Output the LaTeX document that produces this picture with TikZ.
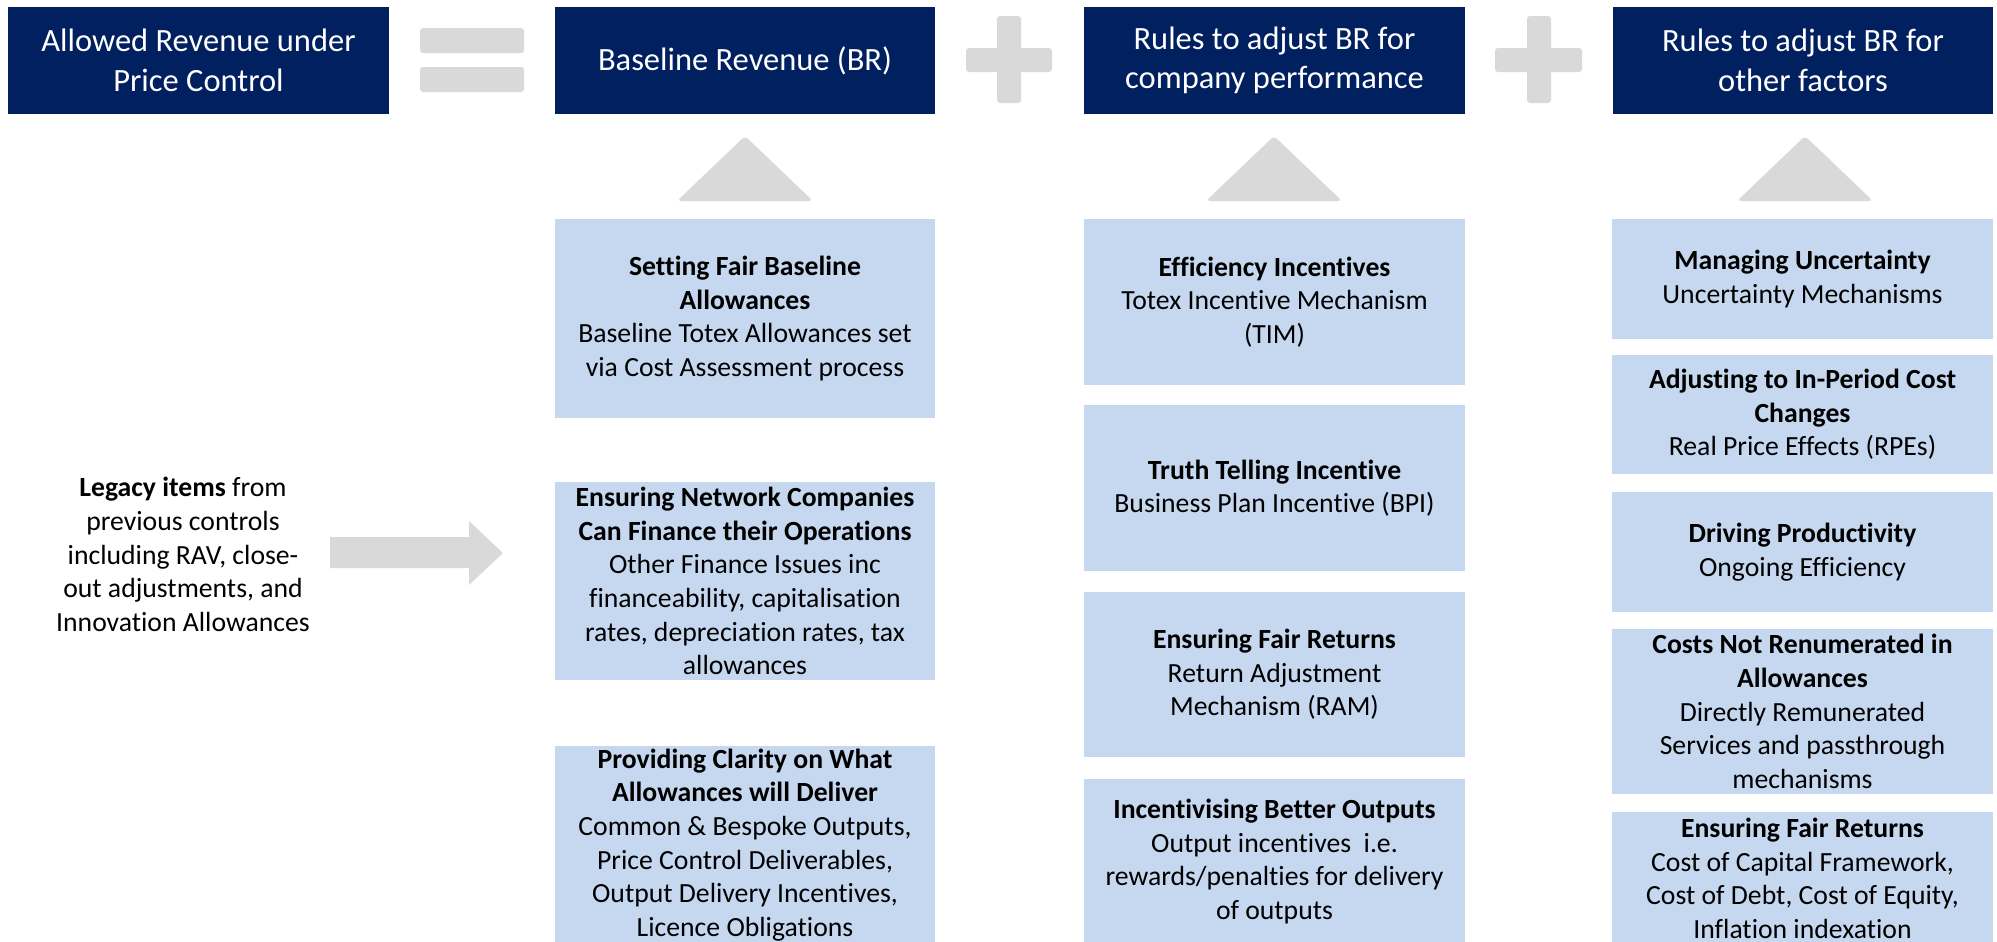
\documentclass[tikz,border=0pt]{standalone}
\usepackage{fontspec}
\setmainfont{Carlito}[Ligatures=NoCommon]
\definecolor{navy}{HTML}{002060}
\definecolor{paleblue}{HTML}{C6D8EF}
\definecolor{shapegrey}{HTML}{D9D9D9}
\tikzset{
  hdr/.style={fill=navy, text=white, inner sep=0pt, align=center,
    font=\fontsize{16.25pt}{19.75pt}\selectfont},
  card/.style={fill=paleblue, text=black, inner sep=0pt, align=center,
    font=\fontsize{13.85pt}{16.8pt}\selectfont},
  plain/.style={inner sep=0pt, align=center, text=black,
    font=\fontsize{13.85pt}{16.8pt}\selectfont},
  glyph/.style={fill=shapegrey, rounded corners=1.5pt},
}
\begin{document}
\begin{tikzpicture}[x=0.5pt, y=-0.5pt]
\useasboundingbox (0,0) rectangle (1997,942);
\clip (0,0) rectangle (1997,942);

% header row
\node[hdr, minimum width=190.5pt, minimum height=53.5pt] (h1) at (198.5,60.5) {Allowed Revenue under\\Price Control};
\node[hdr, minimum width=190pt, minimum height=53.5pt] (h2) at (745,60.5) {Baseline Revenue (BR)};
\node[hdr, minimum width=190.5pt, minimum height=53.5pt] (h3) at (1274.5,60.5) {Rules to adjust BR for\\company performance};
\node[hdr, minimum width=190pt, minimum height=53.5pt] (h4) at (1803,60.5) {Rules to adjust BR for\\other factors};

% equals sign
\fill[glyph] (420,28) rectangle (524,53);
\fill[glyph] (420,67) rectangle (524,92);

% plus signs
\fill[glyph] (997,16) rectangle (1021,103);
\fill[glyph] (966,48) rectangle (1052,72);
\fill[glyph] (1527,16) rectangle (1551,103);
\fill[glyph] (1495,48) rectangle (1582,72);

% upward triangles under each term
\fill[glyph, rounded corners=2pt] (745,136) -- (813,201) -- (677,201) -- cycle;
\fill[glyph, rounded corners=2pt] (1274,136) -- (1342,201) -- (1206,201) -- cycle;
\fill[glyph, rounded corners=2pt] (1805,136) -- (1873,201) -- (1737,201) -- cycle;

% baseline revenue column
\node[card, minimum width=190pt, minimum height=99.5pt] (b1) at (745,318.5)
  {\textbf{Setting Fair Baseline}\\\textbf{Allowances}\\Baseline Totex Allowances set\\via Cost Assessment process};
\node[card, minimum width=190pt, minimum height=99pt] (b2) at (745,581)
  {\textbf{Ensuring Network Companies}\\\textbf{Can Finance their Operations}\\Other Finance Issues inc\\financeability, capitalisation\\rates, depreciation rates, tax\\allowances};
\node[card, minimum width=190pt, minimum height=99pt] (b3) at (745,845)
  {\textbf{Providing Clarity on What}\\\textbf{Allowances will Deliver}\\Common \& Bespoke Outputs,\\Price Control Deliverables,\\Output Delivery Incentives,\\Licence Obligations};

% company performance column
\node[card, minimum width=190.5pt, minimum height=83pt] (c1) at (1274.5,302)
  {\textbf{Efficiency Incentives}\\Totex Incentive Mechanism\\(TIM)};
\node[card, minimum width=190.5pt, minimum height=83pt] (c2) at (1274.5,488)
  {\textbf{Truth Telling Incentive}\\Business Plan Incentive (BPI)};
\node[card, minimum width=190.5pt, minimum height=82.5pt] (c3) at (1274.5,674.5)
  {\textbf{Ensuring Fair Returns}\\Return Adjustment\\Mechanism (RAM)};
\node[card, minimum width=190.5pt, minimum height=82.5pt] (c4) at (1274.5,861.5)
  {\textbf{Incentivising Better Outputs}\\Output incentives\ \ i.e.\\rewards/penalties for delivery\\of outputs};

% other factors column
\node[card, minimum width=190.5pt, minimum height=60pt] (d1) at (1802.5,279)
  {\textbf{Managing Uncertainty}\\Uncertainty Mechanisms};
\node[card, minimum width=190.5pt, minimum height=59.5pt] (d2) at (1802.5,414.5)
  {\textbf{Adjusting to In-Period Cost}\\\textbf{Changes}\\Real Price Effects (RPEs)};
\node[card, minimum width=190.5pt, minimum height=60pt] (d3) at (1802.5,552)
  {\textbf{Driving Productivity}\\Ongoing Efficiency};
\node[card, minimum width=190.5pt, minimum height=82.5pt] (d4) at (1802.5,711.5)
  {\textbf{Costs Not Renumerated in}\\\textbf{Allowances}\\Directly Remunerated\\Services and passthrough\\mechanisms};
\node[card, minimum width=190.5pt, minimum height=66.5pt] (d5) at (1802.5,878.5)
  {\textbf{Ensuring Fair Returns}\\Cost of Capital Framework,\\Cost of Debt, Cost of Equity,\\Inflation indexation};

% legacy items feeding the baseline
\node[plain] (legacy) at (183,554.5)
  {\textbf{Legacy items} from\\previous controls\\including RAV, close-\\out adjustments, and\\Innovation Allowances};
\fill[shapegrey] (330,537) -- (469,537) -- (469,521) -- (503,553) -- (469,585)
  -- (469,568) -- (330,568) -- cycle;
\end{tikzpicture}
\end{document}
